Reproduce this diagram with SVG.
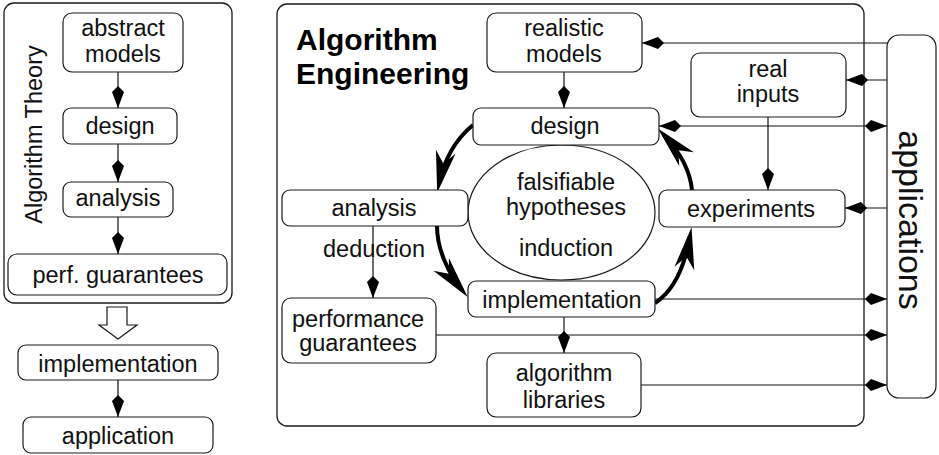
<svg xmlns="http://www.w3.org/2000/svg" width="939" height="455" viewBox="0 0 939 455">
  <style>
    .box { fill: #fff; stroke: #1a1a1a; stroke-width: 1.2; }
    .frame { fill: none; stroke: #1a1a1a; stroke-width: 1.3; }
    .t { font-family: "Liberation Sans", Arial, sans-serif; font-size: 23.5px; fill: #111; text-anchor: middle; }
    .title { font-family: "Liberation Sans", Arial, sans-serif; font-size: 30px; font-weight: bold; fill: #000; }
    .conn { fill: none; stroke: #111; stroke-width: 1.2; }
    .cycle { fill: none; stroke: #000; stroke-width: 4; }
  </style>
  <defs>
    <marker id="dia" markerUnits="userSpaceOnUse" markerWidth="24" markerHeight="14" refX="0" refY="0" orient="auto" overflow="visible">
      <path d="M0,0 L-16,-6 L-22,0 L-16,6 Z" fill="#000"/>
    </marker>
    <marker id="dia2" markerUnits="userSpaceOnUse" markerWidth="24" markerHeight="14" refX="0" refY="0" orient="auto-start-reverse" overflow="visible">
      <path d="M0,0 L-16,-6 L-22,0 L-16,6 Z" fill="#000"/>
    </marker>
    <marker id="head" markerUnits="userSpaceOnUse" markerWidth="46" markerHeight="24" refX="0" refY="0" orient="auto" overflow="visible">
      <path d="M9,0 L-33,-10 L-21,0 L-33,10 Z" fill="#000"/>
    </marker>
  </defs>

  <!-- Algorithm Theory panel -->
  <rect class="frame" x="4" y="3" width="228" height="300" rx="10"/>
  <text class="t" transform="translate(42,134.5) rotate(-90)">Algorithm Theory</text>

  <g id="abstract-models">
    <rect class="box" x="63" y="13" width="120" height="59" rx="9"/>
    <text class="t" x="123" y="36">abstract</text>
    <text class="t" x="123" y="62">models</text>
  </g>
  <g id="theory-design">
    <rect class="box" x="63" y="108" width="114" height="36" rx="8"/>
    <text class="t" x="120" y="134">design</text>
  </g>
  <g id="theory-analysis">
    <rect class="box" x="63" y="182" width="110" height="35" rx="8"/>
    <text class="t" x="118" y="206">analysis</text>
  </g>
  <g id="perf-guarantees">
    <rect class="box" x="8" y="254" width="219" height="41" rx="9"/>
    <text class="t" x="118" y="283">perf. guarantees</text>
  </g>

  <!-- hollow transition arrow -->
  <g id="transition">
    <path d="M107,307 L127,307 L127,325 L137,325 L118,339 L99,325 L107,325 Z" fill="#fff" stroke="#1a1a1a" stroke-width="1.2"/>
  </g>

  <g id="theory-implementation">
    <rect class="box" x="18" y="345" width="200" height="35" rx="8"/>
    <text class="t" x="118" y="372">implementation</text>
  </g>
  <g id="application">
    <rect class="box" x="23" y="417" width="190" height="36" rx="8"/>
    <text class="t" x="118" y="444">application</text>
  </g>

  <!-- Algorithm Engineering panel -->
  <rect class="frame" x="277" y="4" width="587" height="422" rx="10"/>
  <text class="title" x="296" y="50">Algorithm</text>
  <text class="title" x="296" y="84">Engineering</text>

  <g id="connectors">
    <!-- theory chain -->
    <path class="conn" d="M118,72 V108" marker-end="url(#dia)"/>
    <path class="conn" d="M118,144 V182" marker-end="url(#dia)"/>
    <path class="conn" d="M118,217 V254" marker-end="url(#dia)"/>
    <path class="conn" d="M118,380 V417" marker-end="url(#dia)"/>
    <!-- engineering links -->
    <path class="conn" d="M564,72 V108" marker-end="url(#dia)"/>
    <path class="conn" d="M887,43 H642" marker-end="url(#dia)"/>
    <path class="conn" d="M887,80 H846" marker-end="url(#dia)"/>
    <path class="conn" d="M659,126 H887" marker-start="url(#dia2)" marker-end="url(#dia2)"/>
    <path class="conn" d="M768,117 V190" marker-end="url(#dia)"/>
    <path class="conn" d="M887,208 H845" marker-end="url(#dia)"/>
    <path class="conn" d="M655,299 H887" marker-end="url(#dia)"/>
    <path class="conn" d="M436,335 H887" marker-end="url(#dia)"/>
    <path class="conn" d="M641,385 H887" marker-end="url(#dia)"/>
    <path class="conn" d="M564,317 V353" marker-end="url(#dia)"/>
    <path class="conn" d="M373,226 V298" marker-end="url(#dia)"/>
    <!-- design / analysis / implementation / experiments cycle -->
    <path class="cycle" d="M473,125 C456,139 444,160 439,184" marker-end="url(#head)"/>
    <path class="cycle" d="M437,226 C437,250 449,274 462,290" marker-end="url(#head)"/>
    <path class="cycle" d="M655,303 C675,290 685,265 690,236" marker-end="url(#head)"/>
    <path class="cycle" d="M692,190 C690,170 678,150 664,135" marker-end="url(#head)"/>
  </g>

  <g id="hypotheses">
    <ellipse class="box" cx="561.5" cy="212.5" rx="93.5" ry="67.5"/>
    <text class="t" x="566" y="190">falsifiable</text>
    <text class="t" x="566" y="215">hypotheses</text>
    <text class="t" x="566" y="256">induction</text>
  </g>

  <g id="realistic-models">
    <rect class="box" x="487" y="13" width="155" height="59" rx="9"/>
    <text class="t" x="564" y="36">realistic</text>
    <text class="t" x="564" y="62">models</text>
  </g>
  <g id="real-inputs">
    <rect class="box" x="691" y="53" width="155" height="64" rx="9"/>
    <text class="t" x="768" y="77">real</text>
    <text class="t" x="768" y="102">inputs</text>
  </g>
  <g id="design">
    <rect class="box" x="473" y="108" width="186" height="37" rx="8"/>
    <text class="t" x="565" y="134">design</text>
  </g>
  <g id="analysis">
    <rect class="box" x="282" y="190" width="186" height="36" rx="8"/>
    <text class="t" x="374" y="216">analysis</text>
  </g>
  <g id="experiments">
    <rect class="box" x="659" y="190" width="186" height="37" rx="8"/>
    <text class="t" x="751" y="217">experiments</text>
  </g>
  <g id="implementation">
    <rect class="box" x="468" y="281" width="187" height="36" rx="8"/>
    <text class="t" x="562" y="308">implementation</text>
  </g>
  <g id="performance-guarantees">
    <rect class="box" x="282" y="298" width="154" height="65" rx="9"/>
    <text class="t" x="358" y="327">performance</text>
    <text class="t" x="358" y="351">guarantees</text>
  </g>
  <g id="algorithm-libraries">
    <rect class="box" x="487" y="353" width="154" height="64" rx="9"/>
    <text class="t" x="564" y="381">algorithm</text>
    <text class="t" x="564" y="408">libraries</text>
  </g>

  <text class="t" x="374" y="257">deduction</text>

  <g id="applications">
    <rect class="box" x="887" y="35" width="49" height="363" rx="12"/>
    <text class="t" style="font-size:34px" transform="translate(899,220) rotate(90)">applications</text>
  </g>
</svg>
